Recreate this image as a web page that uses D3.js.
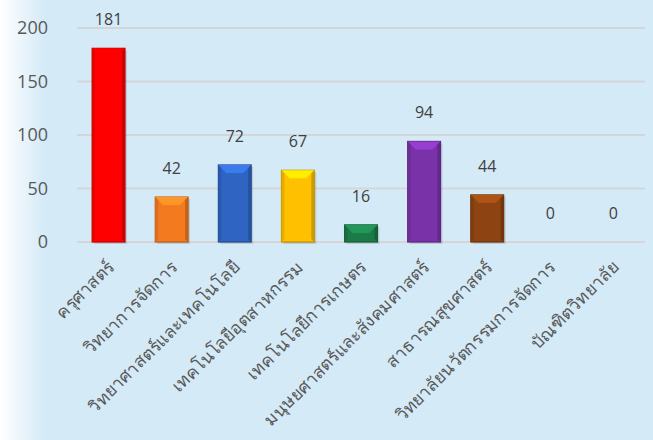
<!DOCTYPE html>
<html>
<head>
<meta charset="utf-8">
<script src="https://cdn.jsdelivr.net/npm/d3@7"></script>
<style>
  body { margin: 0; }
  svg { display: block; }
</style>
</head>
<body>
<div id="chart"></div>
<script>
// categories and values
let categories = ["ครุศาสตร์", "วิทยาการจัดการ", "วิทยาศาสตร์และเทคโนโลยี", "เทคโนโลยีอุตสาหกรรม",
  "เทคโนโลยีการเกษตร", "มนุษยศาสตร์และสังคมศาสตร์", "สาธารณสุขศาสตร์", "วิทยาลัยนวัตกรรมการจัดการ", "บัณฑิตวิทยาลัย"];
let values = [181, 42, 72, 67, 16, 94, 44, 0, 0];
let barColors = ["#ff0000", "#f47a20", "#2f64c2", "#ffc000", "#1b7a48", "#7a32a8", "#8e4412", "#888888", "#888888"];
let yTicks = [0, 50, 100, 150, 200];

let width = 653, height = 440;
let margin = { top: 28, right: 8, bottom: 198, left: 77 };

let svg = d3.select("#chart")
  .append("svg")
  .attr("width", width)
  .attr("height", height);

let defs = svg.append("defs");
let bg = defs.append("linearGradient").attr("id", "bgLeft").attr("x1", 0).attr("x2", 1);
bg.append("stop").attr("offset", 0).attr("stop-color", "#ffffff");
bg.append("stop").attr("offset", 1).attr("stop-color", "#d4eaf7");

// background
svg.append("rect").attr("width", width).attr("height", height).attr("fill", "#d4eaf7");
svg.append("rect").attr("width", 45).attr("height", height).attr("fill", "url(#bgLeft)");

let x = d3.scaleBand()
  .domain(categories)
  .range([margin.left, width - margin.right])
  .paddingInner(0.48)
  .paddingOuter(0.24);

let y = d3.scaleLinear()
  .domain([0, 200])
  .range([height - margin.bottom, margin.top]);

// gridlines
svg.append("g")
  .selectAll("line")
  .data(yTicks)
  .enter()
  .append("line")
  .attr("x1", margin.left)
  .attr("x2", width - margin.right)
  .attr("y1", d => y(d))
  .attr("y2", d => y(d))
  .attr("stroke", "#d5d5d8")
  .attr("stroke-width", 2);

// y axis labels
let yAxis = svg.append("g")
  .attr("transform", "translate(" + (margin.left - 29) + ",0)")
  .call(d3.axisLeft(y).tickValues(yTicks).tickSize(0).tickPadding(0));
yAxis.select(".domain").remove();
yAxis.selectAll("text")
  .attr("fill", "#595959")
  .style("font-family", "Open Sans, sans-serif")
  .style("font-size", "18px");

// bars with bevel
let bars = svg.append("g")
  .selectAll("g")
  .data(values.map((v, i) => ({ cat: categories[i], v: v, c: barColors[i] })))
  .enter()
  .append("g")
  .filter(d => d.v > 0);

bars.append("rect")
  .attr("x", d => x(d.cat) + 2)
  .attr("y", d => y(d.v) + 2)
  .attr("width", x.bandwidth())
  .attr("height", d => y(0) - y(d.v))
  .attr("fill", "#000")
  .attr("opacity", 0.12);

bars.append("rect")
  .attr("x", d => x(d.cat))
  .attr("y", d => y(d.v))
  .attr("width", x.bandwidth())
  .attr("height", d => y(0) - y(d.v))
  .attr("fill", d => d.c)
  .attr("stroke", d => d3.color(d.c).darker(0.8))
  .attr("stroke-width", 1.2);

// top bevel
bars.append("path")
  .attr("d", d => {
    let x0 = x(d.cat), x1 = x0 + x.bandwidth(), t = y(d.v), b = 8;
    return "M" + x0 + "," + t + "L" + x1 + "," + t + "L" + (x1 - b) + "," + (t + b) + "L" + (x0 + b) + "," + (t + b) + "Z";
  })
  .attr("fill", d => d3.color(d.c).brighter(0.6));

// side bevels
bars.append("path")
  .attr("d", d => {
    let x0 = x(d.cat), t = y(d.v), bt = y(0), b = 3;
    return "M" + x0 + "," + t + "L" + (x0 + b) + "," + (t + b) + "L" + (x0 + b) + "," + (bt - b) + "L" + x0 + "," + bt + "Z";
  })
  .attr("fill", d => d3.color(d.c).darker(0.3));
bars.append("path")
  .attr("d", d => {
    let x1 = x(d.cat) + x.bandwidth(), t = y(d.v), bt = y(0), b = 3;
    return "M" + x1 + "," + t + "L" + (x1 - b) + "," + (t + b) + "L" + (x1 - b) + "," + (bt - b) + "L" + x1 + "," + bt + "Z";
  })
  .attr("fill", d => d3.color(d.c).darker(0.6));

// value labels
svg.append("g")
  .selectAll("text")
  .data(values)
  .enter()
  .append("text")
  .attr("x", (d, i) => x(categories[i]) + x.bandwidth() / 2)
  .attr("y", d => y(d) - 23)
  .attr("text-anchor", "middle")
  .attr("fill", "#404040")
  .style("font-family", "Open Sans, sans-serif")
  .style("font-size", "16px")
  .text(d => d);

// category labels
svg.append("g")
  .selectAll("text")
  .data(categories)
  .enter()
  .append("text")
  .attr("transform", d => "translate(" + (x(d) + x.bandwidth() / 2 + 2) + "," + (y(0) + 22) + ") rotate(-45)")
  .attr("text-anchor", "end")
  .attr("dy", "0.35em")
  .attr("fill", "#595959")
  .style("font-family", "Noto Sans, sans-serif")
  .style("font-size", "17.5px")
  .text(d => d);
</script>
</body>
</html>
